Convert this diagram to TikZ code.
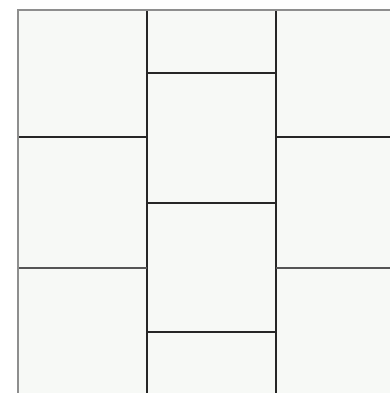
\documentclass[tikz,border=0pt]{standalone}
\usepackage{tikz}
\definecolor{TileFill}{HTML}{F7F9F6}
\definecolor{EdgeGray}{HTML}{8E8E8E}
\definecolor{JointDark}{HTML}{262626}
\definecolor{JointMid}{HTML}{555555}

\begin{document}
\begin{tikzpicture}[x=1pt,y=-1pt,
  tile/.style={fill=TileFill},
  joint/.style={line width=2.4pt,JointDark},
  softjoint/.style={line width=2.8pt,JointMid},
  edge/.style={line width=2.8pt,EdgeGray}
]
\useasboundingbox (0,0) rectangle (390,393);
\fill[white] (0,0) rectangle (390,393);
\clip (0,0) rectangle (390,393);
\fill[tile] (18,10) rectangle (400,400);
% vertical joints
\draw[joint] (147,10) -- (147,400);
\draw[joint] (276,10) -- (276,400);
% left column
\draw[joint] (18,137) -- (147,137);
\draw[softjoint] (18,268) -- (147,268);
% middle column, offset by half a tile
\draw[joint] (147,73) -- (276,73);
\draw[joint] (147,203) -- (276,203);
\draw[joint] (147,332) -- (276,332);
% right column
\draw[joint] (276,137) -- (400,137);
\draw[softjoint] (276,268) -- (400,268);
% outer edge
\draw[edge] (18,400) -- (18,10) -- (400,10);
\end{tikzpicture}
\end{document}
